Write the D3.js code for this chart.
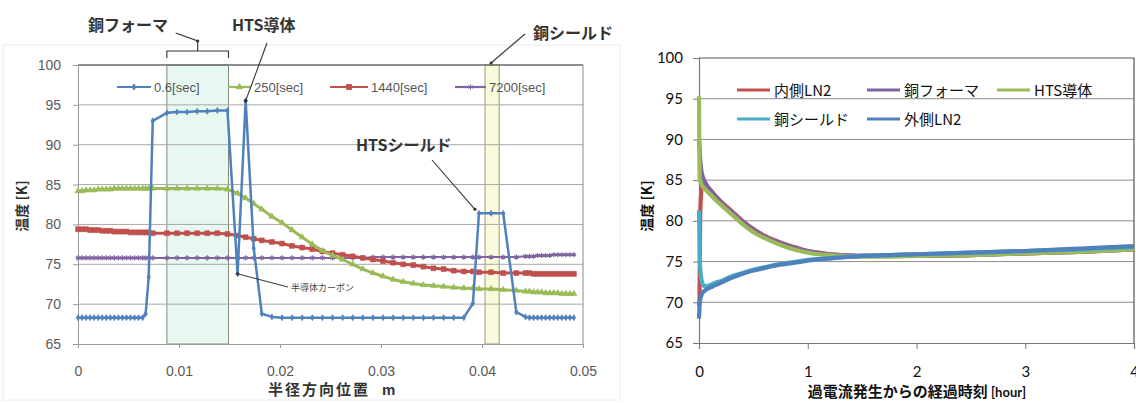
<!DOCTYPE html>
<html><head><meta charset="utf-8">
<script src="https://cdn.jsdelivr.net/npm/d3@7"></script>
<style>body{margin:0;background:#fff}svg{display:block}</style>
</head><body>
<svg id="c" width="1136" height="403"></svg>
<script>
// ---------- LEFT CHART DATA ----------
const radialPos = [0,0.0004,0.0008,0.0012,0.0016,0.002,0.0024,0.0028,0.0032,0.0036,0.004,0.0044,0.0048,0.0052,0.0056,0.006,0.0064,
 0.0067,0.007,0.0074,0.0088,0.0098,0.0108,0.0118,0.0128,0.0138,0.0148,0.0158,0.0166,0.0174,0.0182,
 0.0192,0.0202,0.0212,0.0222,0.0232,0.0242,0.0252,0.0262,0.0272,0.0282,0.0292,0.0302,0.0312,0.0322,0.0332,0.0342,0.0352,0.0362,0.0372,0.0382,
 0.0391,0.0397,0.0409,0.0421,0.0434,
 0.0443,0.0447,0.0451,0.0455,0.0459,0.0463,0.0467,0.0471,0.0475,0.0479,0.0483,0.0487,0.0491];
const temp_0_6s = [68.3,68.3,68.3,68.3,68.3,68.3,68.3,68.3,68.3,68.3,68.3,68.3,68.3,68.3,68.3,68.3,68.3,
 68.8,73.4,93.0,94.0,94.1,94.1,94.2,94.2,94.3,94.3,73.8,95.5,77.0,68.8,
 68.4,68.3,68.3,68.3,68.3,68.3,68.3,68.3,68.3,68.3,68.3,68.3,68.3,68.3,68.3,68.3,68.3,68.3,68.3,68.3,
 70.1,81.4,81.4,81.4,69.0,
 68.4,68.3,68.3,68.3,68.3,68.3,68.3,68.3,68.3,68.3,68.3,68.3,68.3];
const temp_250s = [84.2,84.2,84.3,84.3,84.3,84.4,84.4,84.4,84.4,84.5,84.5,84.5,84.5,84.5,84.5,84.5,84.5,
 84.5,84.5,84.5,84.5,84.5,84.5,84.5,84.5,84.5,84.4,83.9,83.3,82.6,81.9,
 81.0,80.2,79.3,78.4,77.5,76.7,76.1,75.6,75.0,74.4,73.9,73.5,73.1,72.8,72.6,72.4,72.3,72.2,72.1,72.0,
 72.0,71.9,71.9,71.8,71.7,
 71.6,71.6,71.5,71.5,71.5,71.4,71.4,71.4,71.4,71.3,71.3,71.3,71.3];
const temp_1440s = [79.4,79.4,79.4,79.3,79.3,79.3,79.2,79.2,79.2,79.1,79.1,79.1,79.1,79.0,79.0,79.0,79.0,
 79.0,79.0,78.9,78.9,78.9,78.9,78.9,78.9,78.9,78.8,78.6,78.4,78.2,78.0,
 77.8,77.6,77.3,77.1,76.9,76.6,76.4,76.2,76.0,75.8,75.6,75.4,75.2,75.0,74.9,74.7,74.5,74.4,74.2,74.1,
 74.1,74.0,74.0,73.9,73.9,
 73.9,73.9,73.8,73.8,73.8,73.8,73.8,73.8,73.8,73.8,73.8,73.8,73.8];
const temp_7200s = [75.8,75.8,75.8,75.8,75.8,75.8,75.8,75.8,75.8,75.8,75.8,75.8,75.8,75.8,75.8,75.8,75.8,
 75.8,75.8,75.8,75.8,75.8,75.8,75.8,75.8,75.8,75.8,75.8,75.8,75.8,75.8,
 75.8,75.8,75.8,75.8,75.8,75.8,75.8,75.8,75.8,75.8,75.9,75.9,75.9,75.9,75.9,75.9,75.9,75.9,75.9,75.9,
 75.9,75.9,75.9,75.9,75.9,
 76.0,76.0,76.0,76.1,76.1,76.1,76.1,76.2,76.2,76.2,76.2,76.2,76.2];
const leftSeriesNames = ["0.6[sec]","250[sec]","1440[sec]","7200[sec]"];
const leftXTicks = [0,0.01,0.02,0.03,0.04,0.05];
const leftYTicks = [65,70,75,80,85,90,95,100];
const copperFormerBand = [0.0088,0.0149];
const copperShieldBand = [0.0403,0.0417];

// ---------- RIGHT CHART DATA ----------
const hours = [0,0.005,0.01,0.02,0.03,0.05,0.07,0.1,0.15,0.2,0.3,0.4,0.5,0.6,0.7,0.8,0.9,1.0,1.1,1.2,1.3,1.5,1.75,2.0,2.5,3.0,3.5,4.0];
const innerLN2   = [69.5,70.5,80.0,83.5,84.3,84.6,84.3,83.9,83.1,82.4,81.2,80.0,79.0,78.2,77.6,77.1,76.7,76.3,76.1,75.9,75.8,75.7,75.7,75.7,75.8,76.0,76.2,76.5];
const copperFormer = [90.0,89.0,87.8,86.3,85.6,84.9,84.4,83.8,83.0,82.3,81.1,79.9,78.9,78.1,77.5,77.0,76.6,76.3,76.0,75.9,75.8,75.7,75.7,75.7,75.8,76.0,76.2,76.5];
const htsConductor = [95.3,85.5,84.9,84.6,84.3,84.0,83.7,83.3,82.6,82.0,80.8,79.6,78.6,77.9,77.3,76.8,76.4,76.1,75.9,75.8,75.7,75.6,75.6,75.7,75.8,76.0,76.2,76.5];
const copperShield = [81.3,77.0,74.5,73.0,72.4,72.0,72.0,72.1,72.4,72.6,73.2,73.6,74.0,74.3,74.6,74.8,75.0,75.2,75.3,75.4,75.5,75.7,75.8,75.9,76.1,76.3,76.5,76.8];
const outerLN2   = [68.0,69.5,70.3,70.8,71.1,71.4,71.6,71.8,72.1,72.4,73.0,73.5,73.9,74.2,74.5,74.7,74.9,75.1,75.3,75.4,75.5,75.7,75.8,75.9,76.1,76.3,76.6,76.9];
const rightSeriesNames = ["内側LN2","銅フォーマ","HTS導体","銅シールド","外側LN2"];
const rightXTicks = [0,1,2,3,4];
const rightYTicks = [65,70,75,80,85,90,95,100];

const svg = d3.select("#c");

// ================= LEFT =================
const L = svg.append("g");
const lx = d3.scaleLinear().domain([0,0.05]).range([78,583]);
const ly = d3.scaleLinear().domain([65,100]).range([344,65]);

L.append("rect").attr("x",3).attr("y",45).attr("width",617).attr("height",355)
 .attr("fill","none").attr("stroke","#ececec");

// bands
L.append("rect").attr("x",lx(copperFormerBand[0])).attr("y",ly(100))
 .attr("width",lx(copperFormerBand[1])-lx(copperFormerBand[0])).attr("height",ly(65)-ly(100))
 .attr("fill","#e6f8ef").attr("stroke","#8a8a7a").attr("stroke-width",1);
L.append("rect").attr("x",lx(copperShieldBand[0])).attr("y",ly(100))
 .attr("width",lx(copperShieldBand[1])-lx(copperShieldBand[0])).attr("height",ly(65)-ly(100))
 .attr("fill","#fafadc").attr("stroke","#9a9a78").attr("stroke-width",1);

// grid
L.append("g").selectAll("line").data(leftYTicks.filter(d=>d>65&&d<100)).join("line")
 .attr("x1",lx(0)).attr("x2",lx(0.05)).attr("y1",d=>ly(d)).attr("y2",d=>ly(d))
 .attr("stroke","#a8a8a8").attr("stroke-width",1);
L.append("line").attr("x1",lx(0)).attr("x2",lx(0.05)).attr("y1",ly(100)).attr("y2",ly(100))
 .attr("stroke","#6a6a6a").attr("stroke-width",1.3);
L.append("line").attr("x1",lx(0.05)).attr("x2",lx(0.05)).attr("y1",ly(100)).attr("y2",ly(65))
 .attr("stroke","#8a8a8a").attr("stroke-width",1);

// axes
const lyAxis = L.append("g").attr("transform",`translate(${lx(0)},0)`)
 .call(d3.axisLeft(ly).tickValues(leftYTicks).tickSize(5).tickPadding(12));
const lxAxis = L.append("g").attr("transform",`translate(0,${ly(65)})`)
 .call(d3.axisBottom(lx).tickValues(leftXTicks).tickSize(4).tickPadding(18).tickFormat(d=>String(d)));
[lyAxis,lxAxis].forEach(a=>{
  a.select(".domain").attr("stroke","#9a9a9a");
  a.selectAll(".tick line").attr("stroke","#9a9a9a");
  a.selectAll("text").attr("fill","#5a5a5a").style("font-family","Liberation Sans, Arial").style("font-size","14px");
});

// series
const leftSeries = [
  {name:leftSeriesNames[3], vals:temp_7200s, color:"#8064A2", sym:d3.symbolAsterisk, size:18, w:2, fill:false},
  {name:leftSeriesNames[2], vals:temp_1440s, color:"#C0504D", sym:d3.symbolSquare, size:24, w:3, fill:true},
  {name:leftSeriesNames[1], vals:temp_250s, color:"#9BBB59", sym:d3.symbolTriangle, size:16, w:3, fill:true},
  {name:leftSeriesNames[0], vals:temp_0_6s, color:"#4F81BD", sym:d3.symbolDiamond, size:11, w:2.5, fill:true}
];
const lline = d3.line().x(d=>lx(d[0])).y(d=>ly(d[1]));
leftSeries.forEach(s=>{
  const pts = radialPos.map((x,i)=>[x,s.vals[i]]);
  const g = L.append("g");
  g.append("path").datum(pts).attr("d",lline).attr("fill","none")
   .attr("stroke",s.color).attr("stroke-width",s.w).attr("stroke-linejoin","round");
  g.selectAll("path.m").data(pts).join("path").attr("class","m")
   .attr("transform",d=>`translate(${lx(d[0])},${ly(d[1])})`)
   .attr("d",d3.symbol(s.sym,s.size))
   .attr("fill",s.fill?s.color:"none").attr("stroke",s.color).attr("stroke-width",s.fill?0.6:1.2);
});

// legend left
const legPos = [[117,153],[228,253],[330,370],[455,488]];
const legOrder = [3,2,1,0];
legOrder.forEach((si,k)=>{
  const s = leftSeries[si];
  const [a,b] = legPos[k];
  const y = 87;
  L.append("line").attr("x1",a).attr("x2",b-2).attr("y1",y).attr("y2",y).attr("stroke",s.color).attr("stroke-width",2.2);
  L.append("path").attr("transform",`translate(${(a+b-2)/2},${y})`).attr("d",d3.symbol(s.sym,s.size))
   .attr("fill",s.fill?s.color:"none").attr("stroke",s.color).attr("stroke-width",1);
  L.append("text").attr("x",b+1).attr("y",y+5).text(s.name)
   .attr("fill","#555").style("font-family","Liberation Sans, Arial").style("font-size","13px");
});

// annotations
const annFont = "Noto Sans CJK JP";
function ann(x,y,t,size){
  L.append("text").attr("x",x).attr("y",y).text(t).attr("fill","#333")
   .style("font-family",annFont).style("font-weight","bold").style("font-size",size+"px");
}
ann(88,31,"銅フォーマ",16);
ann(232,31,"HTS導体",16);
ann(533,39,"銅シールド",16);
ann(356,151,"HTSシールド",16);
const annStroke = "#333";
// bracket
const bx0 = lx(copperFormerBand[0]), bx1 = lx(copperFormerBand[1]), bxc=(bx0+bx1)/2;
L.append("path").attr("d",`M${bx0},58 V51 H${bx1} V58 M${bxc},51 V41 L${bxc-22},33`)
 .attr("fill","none").attr("stroke",annStroke).attr("stroke-width",1.1);
L.append("circle").attr("cx",bxc).attr("cy",41).attr("r",1.6).attr("fill",annStroke);
// HTS conductor leader to peak
const pkI = 28;
L.append("line").attr("x1",267).attr("y1",43).attr("x2",lx(radialPos[pkI])).attr("y2",ly(temp_0_6s[pkI]))
 .attr("stroke",annStroke).attr("stroke-width",1.1);
L.append("circle").attr("cx",lx(radialPos[pkI])).attr("cy",ly(temp_0_6s[pkI])).attr("r",1.8).attr("fill",annStroke);
// copper shield leader
L.append("line").attr("x1",525).attr("y1",34).attr("x2",lx(copperShieldBand[0])+6).attr("y2",ly(100)-2)
 .attr("stroke",annStroke).attr("stroke-width",1.1);
L.append("circle").attr("cx",lx(copperShieldBand[0])+6).attr("cy",ly(100)-2).attr("r",1.6).attr("fill",annStroke);
// HTS shield leader
const hsI = 52;
L.append("line").attr("x1",432).attr("y1",160).attr("x2",lx(radialPos[hsI])-4).attr("y2",ly(temp_0_6s[hsI])-4)
 .attr("stroke",annStroke).attr("stroke-width",1.1);
L.append("circle").attr("cx",lx(radialPos[hsI])-4).attr("cy",ly(temp_0_6s[hsI])-4).attr("r",1.6).attr("fill",annStroke);
// semiconducting carbon
const scI = 27;
L.append("line").attr("x1",lx(radialPos[scI])).attr("y1",ly(temp_0_6s[scI])).attr("x2",288).attr("y2",287)
 .attr("stroke",annStroke).attr("stroke-width",1);
L.append("circle").attr("cx",lx(radialPos[scI])).attr("cy",ly(temp_0_6s[scI])).attr("r",1.6).attr("fill",annStroke);
L.append("text").attr("x",291).attr("y",291).text("半導体カーボン").attr("fill","#444")
 .style("font-family",annFont).style("font-size","9px");

// axis titles left
L.append("text").attr("x",268).attr("y",395).text("半径方向位置").attr("fill","#333")
 .style("font-family",annFont).style("font-weight","bold").style("font-size","15px").style("letter-spacing","2px");
L.append("text").attr("x",382).attr("y",395).text("m").attr("fill","#333")
 .style("font-family","Liberation Sans, Arial").style("font-weight","bold").style("font-size","15px");
L.append("text").attr("transform","translate(27,206) rotate(-90)").attr("text-anchor","middle")
 .text("温度 [K]").attr("fill","#333").style("font-family",annFont).style("font-weight","bold").style("font-size","14px");

// ================= RIGHT =================
const R = svg.append("g");
const rx = d3.scaleLinear().domain([0,4]).range([699,1134]);
const ry = d3.scaleLinear().domain([65,100]).range([343,58]);

R.append("g").selectAll("line").data(rightYTicks.filter(d=>d>65&&d<100)).join("line")
 .attr("x1",rx(0)).attr("x2",rx(4)).attr("y1",d=>ry(d)).attr("y2",d=>ry(d))
 .attr("stroke","#8c8c8c").attr("stroke-width",1);
R.append("path").attr("d",`M${rx(0)},${ry(100)} H${rx(4)} V${ry(65)}`).attr("fill","none")
 .attr("stroke","#555").attr("stroke-width",1.2);

const ryAxis = R.append("g").attr("transform",`translate(${rx(0)},0)`)
 .call(d3.axisLeft(ry).tickValues(rightYTicks).tickSize(6).tickPadding(10));
const rxAxis = R.append("g").attr("transform",`translate(0,${ry(65)})`)
 .call(d3.axisBottom(rx).tickValues(rightXTicks).tickSize(6).tickPadding(17).tickFormat(d3.format("d")));
[ryAxis,rxAxis].forEach(a=>{
  a.select(".domain").attr("stroke","#777").attr("stroke-width",1.2);
  a.selectAll(".tick line").attr("stroke","#777");
  a.selectAll("text").attr("fill","#111").style("font-family","Lato, Open Sans, sans-serif").style("font-size","15px");
});

const rightSeries = [
  {name:rightSeriesNames[0], vals:innerLN2, color:"#C0504D"},
  {name:rightSeriesNames[1], vals:copperFormer, color:"#8064A2"},
  {name:rightSeriesNames[2], vals:htsConductor, color:"#9BBB59"},
  {name:rightSeriesNames[3], vals:copperShield, color:"#4BACC6"},
  {name:rightSeriesNames[4], vals:outerLN2, color:"#4F81BD"}
];
const rline = d3.line().x(d=>rx(d[0])).y(d=>ry(d[1])).curve(d3.curveMonotoneX);
rightSeries.forEach(s=>{
  R.append("path").datum(hours.map((h,i)=>[h,s.vals[i]])).attr("d",rline)
   .attr("fill","none").attr("stroke",s.color).attr("stroke-width",4.2).attr("stroke-linejoin","round");
});

// legend right
const rLeg = [[737,90],[867,90],[997,90],[737,119],[867,119]];
rightSeries.forEach((s,i)=>{
  const [x,y] = rLeg[i];
  R.append("line").attr("x1",x).attr("x2",x+33).attr("y1",y).attr("y2",y).attr("stroke",s.color).attr("stroke-width",3);
  R.append("text").attr("x",x+37).attr("y",y+6).text(s.name).attr("fill","#111")
   .style("font-family",annFont).style("font-size","15px");
});

// axis titles right
const xt = R.append("text").attr("x",917).attr("y",397).attr("text-anchor","middle").attr("fill","#111")
 .style("font-weight","bold");
xt.append("tspan").text("過電流発生からの経過時刻").style("font-family",annFont).style("font-size","15px");
xt.append("tspan").text(" [hour]").style("font-family","Lato, sans-serif").style("font-size","13px");
R.append("text").attr("transform","translate(652,206) rotate(-90)").attr("text-anchor","middle")
 .text("温度 [K]").attr("fill","#111").style("font-family",annFont).style("font-weight","bold").style("font-size","14px");
</script>
</body></html>
